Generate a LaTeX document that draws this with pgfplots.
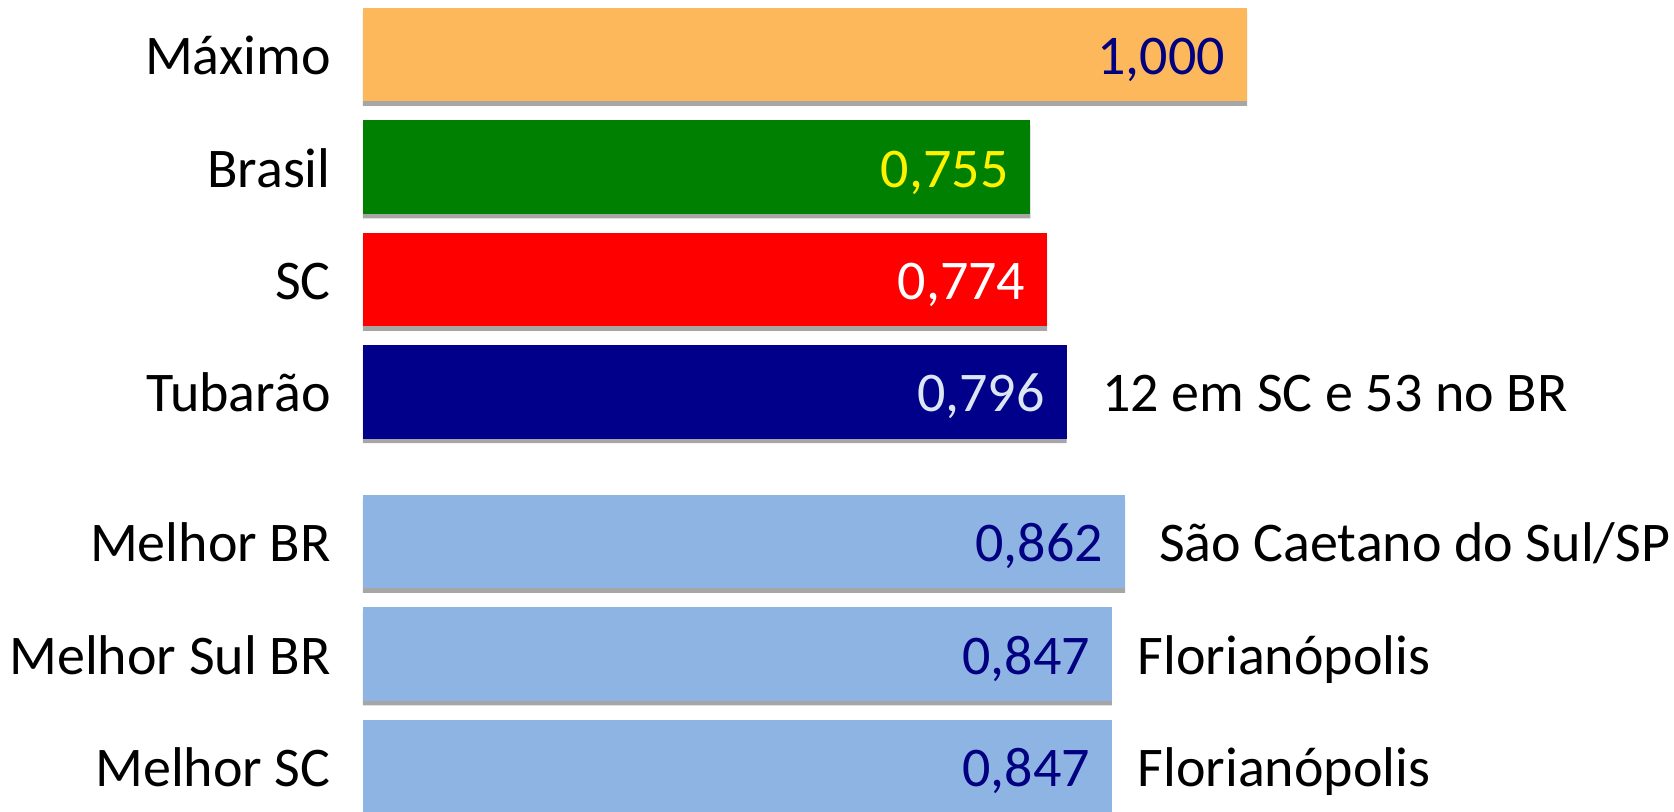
\documentclass[border=0pt]{standalone}
\usepackage{fontspec}
\setmainfont{Carlito}
\usepackage{pgfplots}
\pgfplotsset{compat=1.18}
\definecolor{cMax}{RGB}{252,184,90}
\definecolor{cGreen}{RGB}{0,128,0}
\definecolor{cRed}{RGB}{255,0,0}
\definecolor{cNavy}{RGB}{0,0,139}
\definecolor{cLight}{RGB}{142,180,227}
\definecolor{cShadow}{RGB}{166,166,166}
\definecolor{cNavyText}{RGB}{0,0,128}
\definecolor{cPale}{RGB}{220,230,242}
\begin{document}
\begin{tikzpicture}
\begin{axis}[
  name=ax,
  xbar,
  scale only axis,
  width=442bp, height=406bp,
  xmin=0, xmax=1,
  ymin=-0.487, ymax=6.737,
  y dir=reverse,
  clip=false,
  axis line style={draw=none},
  tick style={draw=none},
  major tick length=0pt,
  xtick=\empty,
  ytick={0,1,2,3,4.332,5.332,6.33},
  yticklabels={Máximo,Brasil,SC,Tubarão,Melhor BR,Melhor Sul BR,Melhor SC},
  yticklabel style={anchor=base east, inner sep=0pt, xshift=-16bp, yshift=-10bp},
  font=\fontsize{28.1}{33}\selectfont,
  bar width=46.75bp,
  bar shift=0pt,
  point meta=x,
  nodes near coords={\pgfmathprintnumber[fixed,fixed zerofill,precision=3,use comma,assume math mode=true]{\pgfplotspointmeta}},
  every node near coord/.append style={anchor=base east, inner sep=0pt, xshift=-10.8bp, yshift=-10bp, font=\fontsize{28.1}{33}\selectfont},
]
% shadows
\addplot[bar shift=0pt, fill=cShadow, draw=none, nodes near coords=] coordinates {(1.000,0.04) (0.755,1.04) (0.774,2.04) (0.796,3.04) (0.862,4.372) (0.847,5.372)};
% bars
\addplot[bar shift=0pt, fill=cMax, draw=none, every node near coord/.append style={text=cNavyText}] coordinates {(1.000,0)};
\addplot[bar shift=0pt, fill=cGreen, draw=none, every node near coord/.append style={text=yellow}] coordinates {(0.755,1)};
\addplot[bar shift=0pt, fill=cRed, draw=none, every node near coord/.append style={text=white}] coordinates {(0.774,2)};
\addplot[bar shift=0pt, fill=cNavy, draw=none, every node near coord/.append style={text=cPale}] coordinates {(0.796,3)};
\addplot[bar shift=0pt, fill=cLight, draw=none, every node near coord/.append style={text=cNavyText}] coordinates {(0.862,4.332)};
\addplot[bar shift=0pt, fill=cLight, draw=none, every node near coord/.append style={text=cNavyText}] coordinates {(0.847,5.332)};
\addplot[bar shift=0pt, fill=cLight, draw=none, every node near coord/.append style={text=cNavyText}] coordinates {(0.847,6.33)};
\node[anchor=base west, inner sep=0pt, yshift=-10bp] at (axis cs:0.836,3) {12 em SC e 53 no BR};
\node[anchor=base west, inner sep=0pt, yshift=-10bp] at (axis cs:0.900,4.332) {São Caetano do Sul/SP};
\node[anchor=base west, inner sep=0pt, yshift=-10bp] at (axis cs:0.876,5.332) {Florianópolis};
\node[anchor=base west, inner sep=0pt, yshift=-10bp] at (axis cs:0.876,6.33) {Florianópolis};
\end{axis}
\pgfresetboundingbox
\path[use as bounding box] ([xshift=-181.5bp]ax.south west) rectangle ([xshift=213.5bp]ax.north east);
\end{tikzpicture}
\end{document}
